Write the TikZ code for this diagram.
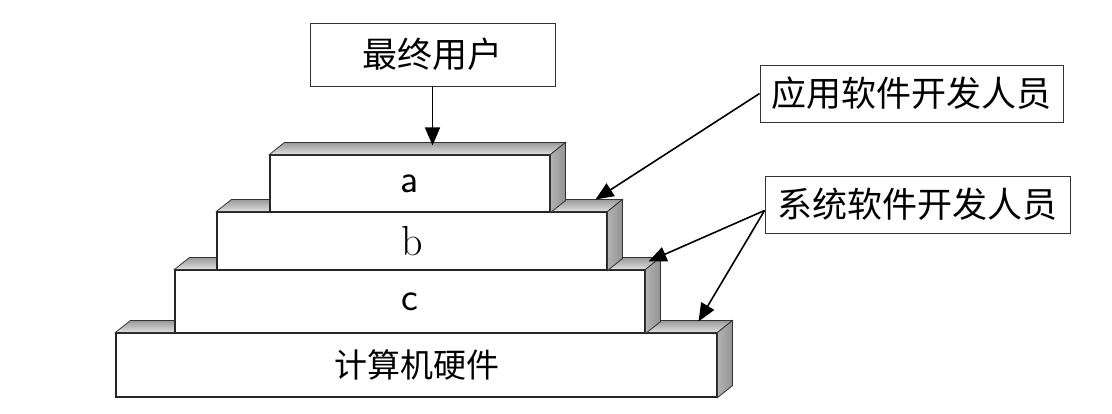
\documentclass[tikz,border=0pt]{standalone}
\usepackage{fontspec}
\newfontfamily\cjk{Noto Sans CJK SC}
\usetikzlibrary{arrows.meta,calc}
\newcommand{\slabfaces}[1]{%
  \shade[top color=gray!80, bottom color=gray!25, draw=black!80, line width=0.8pt]
    (#1.north west) -- ++(15,-12) -- ($(#1.north east)+(15,-12)$) -- (#1.north east) -- cycle;
  \shade[left color=gray!60, right color=gray!85, draw=black!80, line width=0.8pt]
    (#1.north east) -- ++(15,-12) -- ($(#1.south east)+(15,-12)$) -- (#1.south east) -- cycle;
}
\begin{document}
\begin{tikzpicture}[x=1pt,y=-1pt,
  front/.style={draw=black!85, line width=1.1pt, fill=white, inner sep=0pt},
  lab/.style={draw=black!80, line width=0.9pt, fill=white, inner sep=0pt,
    font=\cjk\fontsize{35}{38}\selectfont},
  arr/.style={line width=1.6pt, -{Triangle[length=18pt,width=15pt]}},
  big/.style={font=\fontsize{42}{44}\selectfont}]
\useasboundingbox (0,0) rectangle (1112,413);
\fill[white] (0,0) rectangle (1112,413);
% hardware
\node[front, minimum width=601pt, minimum height=64pt, font=\cjk\fontsize{33}{36}\selectfont] (hw) at (416.5,365) {计算机硬件};
\slabfaces{hw}
% c
\node[front, minimum width=470pt, minimum height=63pt, font=\sffamily\fontsize{40}{42}\selectfont] (c) at (410,301.5) {c};
\slabfaces{c}
% b
\node[front, big, minimum width=390pt, minimum height=58pt] (b) at (412,241) {b};
\slabfaces{b}
% a
\node[front, font=\sffamily\fontsize{40}{42}\selectfont, minimum width=280pt, minimum height=57pt] (a) at (410,183.5) {a};
\slabfaces{a}
% labels
\node[lab, minimum width=245pt, minimum height=63pt] (user) at (432.5,54.5) {最终用户};
\node[lab, minimum width=303pt, minimum height=57pt] (app) at (911.5,93.5) {应用软件开发人员};
\node[lab, minimum width=305pt, minimum height=57pt] (sys) at (917.5,204.5) {系统软件开发人员};
% arrow targets
\coordinate (ta) at ($(user.south)+(0,59)$);
\coordinate (tb) at ($(b.north east)+(-12,-12)$);
\coordinate (tc) at ($(c.north east)+(3,-8)$);
\coordinate (thw) at ($(hw.north east)+(-19,-11)$);
\draw[arr] (user.south) -- (ta);
\draw[arr] (app.west) -- (tb);
\draw[arr] ($(sys.west)+(0,6)$) -- (tc);
\draw[arr] ($(sys.west)+(0,6)$) -- (thw);
\end{tikzpicture}
\end{document}
